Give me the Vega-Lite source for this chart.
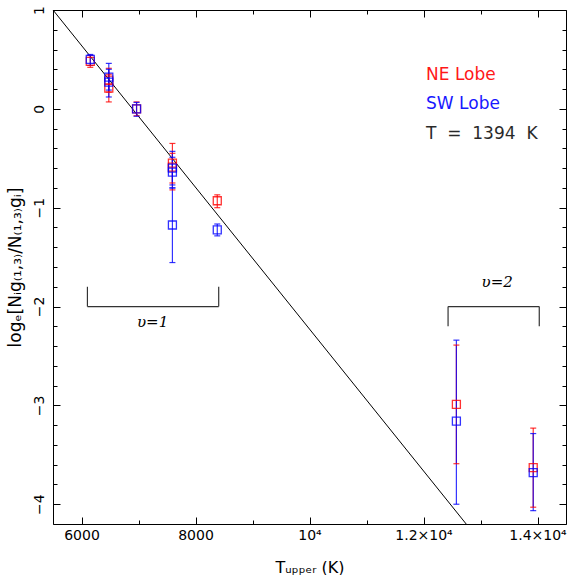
{
  "$schema": "https://vega.github.io/schema/vega-lite/v6.json",
  "width": 513,
  "height": 514,
  "autosize": {"type": "none"},
  "padding": {"left": 53, "top": 10, "right": 1, "bottom": 51},
  "background": "white",
  "config": {"view": {"stroke": null}, "axis": {"grid": false, "domainColor": "black", "tickColor": "black", "labelColor": "black", "titleColor": "black", "labelFont": "DejaVu Sans", "titleFont": "DejaVu Sans", "labelFontSize": 13, "titleFontSize": 16, "titleFontWeight": "normal", "labelFlush": false, "labelOverlap": false, "domainWidth": 1, "tickWidth": 1}},
  "datasets": {
    "fit": [{"T": 5500, "y": 1}, {"T": 12749, "y": -4.2}],
    "pts": [
      {"lobe": "NE", "T": 6154, "y": 0.48, "lo": 0.42, "hi": 0.54},
      {"lobe": "NE", "T": 6479, "y": 0.21, "lo": 0.07, "hi": 0.35},
      {"lobe": "NE", "T": 6479, "y": 0.29, "lo": 0.17, "hi": 0.41},
      {"lobe": "NE", "T": 6966, "y": 0.0, "lo": -0.07, "hi": 0.07},
      {"lobe": "NE", "T": 7595, "y": -0.55, "lo": -0.75, "hi": -0.35},
      {"lobe": "NE", "T": 7595, "y": -0.59, "lo": -0.82, "hi": -0.45},
      {"lobe": "NE", "T": 8382, "y": -0.93, "lo": -1.0, "hi": -0.87},
      {"lobe": "NE", "T": 12577, "y": -2.99, "lo": -3.59, "hi": -2.39},
      {"lobe": "NE", "T": 13925, "y": -3.63, "lo": -4.03, "hi": -3.23},
      {"lobe": "SW", "T": 6154, "y": 0.5, "lo": 0.44, "hi": 0.55},
      {"lobe": "SW", "T": 6479, "y": 0.32, "lo": 0.19, "hi": 0.46},
      {"lobe": "SW", "T": 6479, "y": 0.27, "lo": 0.12, "hi": 0.4},
      {"lobe": "SW", "T": 6966, "y": 0.0, "lo": -0.075, "hi": 0.065},
      {"lobe": "SW", "T": 7595, "y": -0.6, "lo": -0.77, "hi": -0.43},
      {"lobe": "SW", "T": 7595, "y": -0.64, "lo": -0.8, "hi": -0.49},
      {"lobe": "SW", "T": 7595, "y": -1.175, "lo": -1.555, "hi": -0.8},
      {"lobe": "SW", "T": 8382, "y": -1.225, "lo": -1.285, "hi": -1.165},
      {"lobe": "SW", "T": 12577, "y": -3.16, "lo": -4.0, "hi": -2.34},
      {"lobe": "SW", "T": 13925, "y": -3.68, "lo": -4.065, "hi": -3.285}
    ],
    "brackets": [
      {"x": 6104, "x2": 6104, "y": -1.8, "y2": -2.0},
      {"x": 6104, "x2": 8407, "y": -2.0, "y2": -2.0},
      {"x": 8407, "x2": 8407, "y": -1.8, "y2": -2.0},
      {"x": 12431, "x2": 12431, "y": -2.0, "y2": -2.2},
      {"x": 12431, "x2": 14031, "y": -2.0, "y2": -2.0},
      {"x": 14031, "x2": 14031, "y": -2.0, "y2": -2.2}
    ],
    "legend": [
      {"T": 12045, "y": 0.295, "text": "NE Lobe", "c": "NE"},
      {"T": 12045, "y": 0.0, "text": "SW Lobe", "c": "SW"},
      {"T": 12045, "y": -0.305, "text": "T\u00a0 =\u00a0 1394\u00a0 K", "c": "K"}
    ],
    "vib": [
      {"T": 7247, "y": -2.21, "text": "υ=1"},
      {"T": 13293, "y": -1.805, "text": "υ=2"}
    ]
  },
  "layer": [
    {
      "data": {"name": "fit"},
      "mark": {"type": "line", "color": "black", "strokeWidth": 1},
      "encoding": {
        "x": {"field": "T", "type": "quantitative", "scale": {"domain": [5500, 14500], "nice": false, "zero": false},
          "axis": {"orient": "bottom", "values": [6000, 8000, 10000, 12000, 14000], "tickSize": -7, "labelPadding": 11, "labelFontSize": 14,
            "labelExpr": "datum.value == 10000 ? '10⁴' : datum.value == 12000 ? '1.2×10⁴' : datum.value == 14000 ? '1.4×10⁴' : format(datum.value, 'd')",
            "title": "Tᵤₚₚₑᵣ (K)", "titlePadding": 17}},
        "y": {"field": "y", "type": "quantitative", "scale": {"domain": [-4.2, 1], "nice": false, "zero": false},
          "axis": {"orient": "left", "values": [-4, -3, -2, -1, 0, 1], "tickSize": -7, "labelPadding": 14, "labelAngle": -90, "labelAlign": "center", "labelBaseline": "bottom", "labelFontSize": 14,
            "title": "logₑ[Nᵢg₍₁,₃₎/N₍₁,₃₎gᵢ]", "titleFontSize": 17, "titlePadding": 8}}
      }
    },
    {
      "data": {"name": "pts"},
      "mark": {"type": "rule", "strokeWidth": 1.2, "opacity": 0.8},
      "encoding": {
        "x": {"field": "T", "type": "quantitative", "scale": {"domain": [5500, 14500], "nice": false, "zero": false},
          "axis": {"orient": "bottom", "values": [7000, 9000, 11000, 13000], "tickSize": -4, "labels": false, "domain": false, "title": null}},
        "y": {"field": "lo", "type": "quantitative", "scale": {"domain": [-4.2, 1], "nice": false, "zero": false},
          "axis": {"orient": "left", "values": [-4.2, -3.8, -3.6, -3.4, -3.2, -2.8, -2.6, -2.4, -2.2, -1.8, -1.6, -1.4, -1.2, -0.8, -0.6, -0.4, -0.2, 0.2, 0.4, 0.6, 0.8], "tickSize": -4, "labels": false, "domain": false, "title": null}},
        "y2": {"field": "hi"},
        "color": {"field": "lobe", "type": "nominal", "scale": {"domain": ["NE", "SW", "K"], "range": ["#ff0000", "#0000ff", "#111111"]}, "legend": null}
      }
    },
    {
      "data": {"name": "pts"},
      "mark": {"type": "tick", "orient": "horizontal", "size": 6, "thickness": 1.2, "opacity": 0.8},
      "encoding": {
        "x": {"field": "T", "type": "quantitative", "scale": {"domain": [5500, 14500], "nice": false, "zero": false},
          "axis": {"orient": "top", "values": [6000, 8000, 10000, 12000, 14000], "tickSize": -7, "labels": false, "title": null}},
        "y": {"field": "lo", "type": "quantitative", "scale": {"domain": [-4.2, 1], "nice": false, "zero": false},
          "axis": {"orient": "right", "values": [-4, -3, -2, -1, 0, 1], "tickSize": -7, "labels": false, "title": null}},
        "color": {"field": "lobe", "type": "nominal", "scale": {"domain": ["NE", "SW", "K"], "range": ["#ff0000", "#0000ff", "#111111"]}, "legend": null}
      }
    },
    {
      "data": {"name": "pts"},
      "mark": {"type": "tick", "orient": "horizontal", "size": 6, "thickness": 1.2, "opacity": 0.8},
      "encoding": {
        "x": {"field": "T", "type": "quantitative", "scale": {"domain": [5500, 14500], "nice": false, "zero": false},
          "axis": {"orient": "top", "values": [7000, 9000, 11000, 13000], "tickSize": -4, "labels": false, "domain": false, "title": null}},
        "y": {"field": "hi", "type": "quantitative", "scale": {"domain": [-4.2, 1], "nice": false, "zero": false},
          "axis": {"orient": "right", "values": [-4.2, -3.8, -3.6, -3.4, -3.2, -2.8, -2.6, -2.4, -2.2, -1.8, -1.6, -1.4, -1.2, -0.8, -0.6, -0.4, -0.2, 0.2, 0.4, 0.6, 0.8], "tickSize": -4, "labels": false, "domain": false, "title": null}},
        "color": {"field": "lobe", "type": "nominal", "scale": {"domain": ["NE", "SW", "K"], "range": ["#ff0000", "#0000ff", "#111111"]}, "legend": null}
      }
    },
    {
      "data": {"name": "pts"},
      "mark": {"type": "point", "shape": "square", "filled": false, "size": 64, "strokeWidth": 1.3, "opacity": 0.8},
      "encoding": {
        "x": {"field": "T", "type": "quantitative", "scale": {"domain": [5500, 14500], "nice": false, "zero": false}, "axis": null},
        "y": {"field": "y", "type": "quantitative", "scale": {"domain": [-4.2, 1], "nice": false, "zero": false}, "axis": null},
        "color": {"field": "lobe", "type": "nominal", "scale": {"domain": ["NE", "SW", "K"], "range": ["#ff0000", "#0000ff", "#111111"]}, "legend": null}
      }
    },
    {
      "data": {"name": "brackets"},
      "mark": {"type": "rule", "color": "#333333", "strokeWidth": 1.2},
      "encoding": {
        "x": {"field": "x", "type": "quantitative", "scale": {"domain": [5500, 14500], "nice": false, "zero": false}, "axis": null},
        "x2": {"field": "x2"},
        "y": {"field": "y", "type": "quantitative", "scale": {"domain": [-4.2, 1], "nice": false, "zero": false}, "axis": null},
        "y2": {"field": "y2"}
      }
    },
    {
      "data": {"name": "legend"},
      "mark": {"type": "text", "font": "DejaVu Sans", "fontSize": 17, "align": "left", "baseline": "alphabetic", "opacity": 0.9},
      "encoding": {
        "x": {"field": "T", "type": "quantitative", "scale": {"domain": [5500, 14500], "nice": false, "zero": false}, "axis": null},
        "y": {"field": "y", "type": "quantitative", "scale": {"domain": [-4.2, 1], "nice": false, "zero": false}, "axis": null},
        "text": {"field": "text"},
        "color": {"field": "c", "type": "nominal", "scale": {"domain": ["NE", "SW", "K"], "range": ["#ff0000", "#0000ff", "#111111"]}, "legend": null}
      }
    },
    {
      "data": {"name": "vib"},
      "mark": {"type": "text", "font": "DejaVu Serif", "fontSize": 15, "fontStyle": "italic", "align": "center", "baseline": "alphabetic", "color": "black"},
      "encoding": {
        "x": {"field": "T", "type": "quantitative", "scale": {"domain": [5500, 14500], "nice": false, "zero": false}, "axis": null},
        "y": {"field": "y", "type": "quantitative", "scale": {"domain": [-4.2, 1], "nice": false, "zero": false}, "axis": null},
        "text": {"field": "text"}
      }
    }
  ],
  "resolve": {"axis": {"x": "independent", "y": "independent"}}
}
